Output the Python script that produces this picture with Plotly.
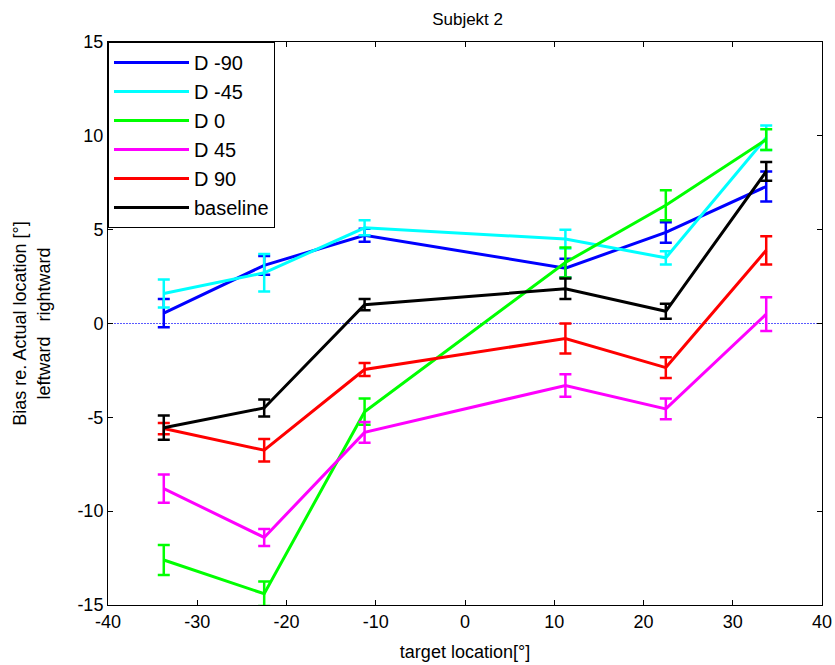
import plotly.graph_objects as go

x_pos = [-33.75, -22.5, -11.25, 11.25, 22.5, 33.75]

names = ["D -90", "D -45", "D 0", "D 45", "D 90", "baseline"]
colors = ["#0000ff", "#00ffff", "#00ff00", "#ff00ff", "#ff0000", "#000000"]

d_m90 = [0.55, 3.1, 4.7, 2.95, 4.85, 7.3]
d_m90_err = [0.75, 0.5, 0.35, 0.5, 0.55, 0.8]
d_m45 = [1.6, 2.7, 5.1, 4.5, 3.5, 9.9]
d_m45_err = [0.75, 1.0, 0.4, 0.5, 0.35, 0.65]
d_0 = [-12.6, -14.4, -4.7, 3.25, 6.3, 9.8]
d_0_err = [0.8, 0.65, 0.7, 0.8, 0.8, 0.55]
d_45 = [-8.8, -11.4, -5.8, -3.3, -4.55, 0.5]
d_45_err = [0.75, 0.45, 0.55, 0.6, 0.55, 0.9]
d_90 = [-5.6, -6.75, -2.45, -0.8, -2.35, 3.9]
d_90_err = [0.3, 0.6, 0.35, 0.8, 0.55, 0.75]
baseline = [-5.55, -4.5, 1.0, 1.85, 0.65, 8.1]
baseline_err = [0.65, 0.45, 0.3, 0.55, 0.4, 0.5]

x_ticks = [-40, -30, -20, -10, 0, 10, 20, 30, 40]
y_ticks = [-15, -10, -5, 0, 5, 10, 15]

series = [d_m90, d_m45, d_0, d_45, d_90, baseline]
errors = [d_m90_err, d_m45_err, d_0_err, d_45_err, d_90_err, baseline_err]

fig = go.Figure()
for name, col, ys, es in zip(names, colors, series, errors):
    fig.add_trace(go.Scatter(
        x=x_pos, y=ys, name=name, mode="lines",
        line=dict(color=col, width=3),
        error_y=dict(type="data", array=es, visible=True, color=col,
                     thickness=2.5, width=6),
    ))

fig.add_shape(type="line", xref="x", yref="y", x0=-40, x1=40, y0=0, y1=0,
              line=dict(color="#5a5aff", width=1, dash="2px,1px"), layer="below")

axis_common = dict(
    showline=True, linecolor="black", linewidth=1, mirror="ticks",
    ticks="inside", ticklen=5, tickcolor="black", showgrid=False,
    zeroline=False, tickfont=dict(size=18, color="black"), automargin=False,
)

fig.update_layout(
    width=835, height=665,
    margin=dict(l=108, r=13, t=42, b=60),
    paper_bgcolor="white", plot_bgcolor="white",
    font=dict(family="Liberation Sans, Arial, sans-serif", size=18, color="black"),
    title=dict(text="Subjekt 2", x=0.56, xanchor="center", y=0.972,
               yanchor="middle", font=dict(size=17)),
    xaxis=dict(range=[-40, 40], tickvals=x_ticks, ticktext=[str(v) for v in x_ticks],
               title=dict(text="target location[°]", standoff=14, font=dict(size=18)),
               **axis_common),
    yaxis=dict(range=[-15, 15], tickvals=y_ticks, ticktext=[str(v) for v in y_ticks],
               title=dict(text="Bias re. Actual location [°]<br>leftward   rightward",
                          standoff=22, font=dict(size=18)),
               **axis_common),
    legend=dict(x=0.0, y=1.0, xanchor="left", yanchor="top",
                bgcolor="white", bordercolor="black", borderwidth=1,
                font=dict(size=20), tracegroupgap=0,
                itemwidth=75),
    showlegend=True,
)

fig.write_html("out.html", config={"displayModeBar": False},
               post_script="document.body.style.margin='0';")
